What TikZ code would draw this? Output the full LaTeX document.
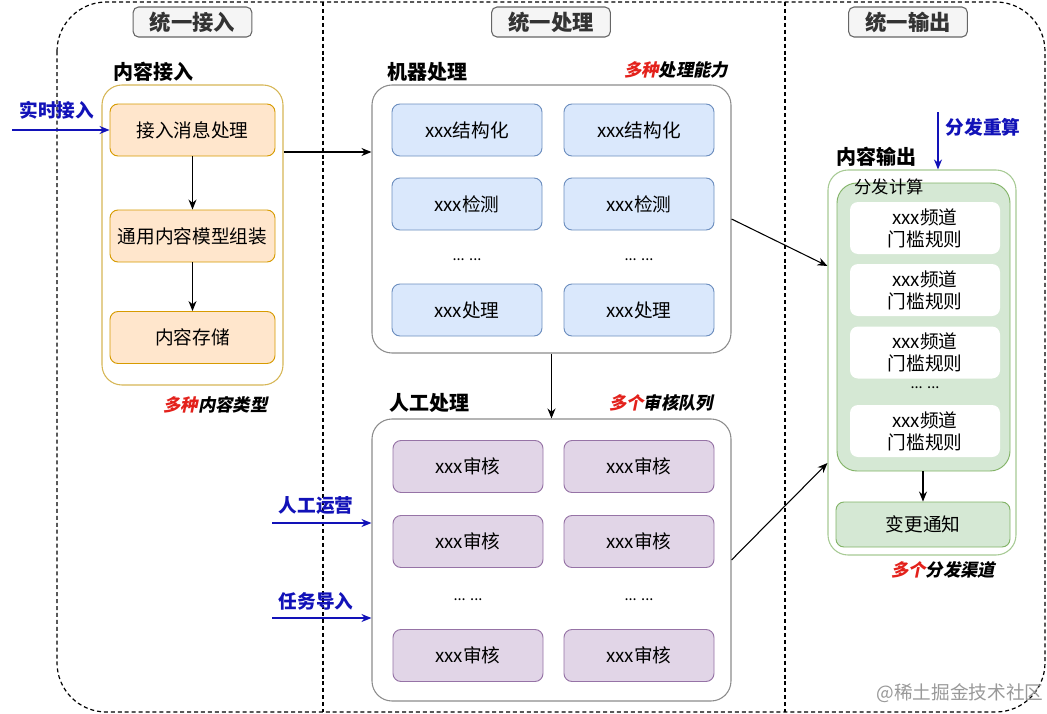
\documentclass[tikz,border=0pt]{standalone}
\usepackage{fontspec}
\setmainfont{Noto Sans CJK SC}
\newfontfamily\slantfont{Noto Sans CJK SC}[FakeSlant=0.2]
\usetikzlibrary{arrows.meta}
\definecolor{headfill}{HTML}{F5F5F5}
\definecolor{headline}{HTML}{666666}
\definecolor{inblue}{HTML}{1212B8}
\definecolor{hotred}{HTML}{E3211B}
\definecolor{yelline}{HTML}{D6B656}
\definecolor{orafill}{HTML}{FFE6CC}
\definecolor{oraline}{HTML}{D79B00}
\definecolor{blufill}{HTML}{DAE8FC}
\definecolor{bluline}{HTML}{6C8EBF}
\definecolor{purfill}{HTML}{E1D5E7}
\definecolor{purline}{HTML}{9673A6}
\definecolor{grnfill}{HTML}{D5E8D4}
\definecolor{grnline}{HTML}{82B366}
\definecolor{boxline}{HTML}{8C8C8C}

\begin{document}
\begin{tikzpicture}[x=0.75pt,y=-0.75pt, >={Stealth[length=7.5pt,width=6pt]},
  every node/.style={inner sep=0pt},
  frame/.style={draw,line width=0.9pt,dash pattern=on 3pt off 2.2pt},
  header/.style={draw=headline,fill=headfill,rounded corners=4pt,line width=0.8pt,
    minimum width=89pt,minimum height=22.5pt,font=\bfseries\fontsize{16}{18}\selectfont,text=black!80},
  title/.style={font=\bfseries\fontsize{15}{17}\selectfont},
  remark/.style={font=\slantfont\bfseries\fontsize{13}{15}\selectfont},
  group/.style={draw=boxline,fill=white,rounded corners=15pt,line width=0.8pt},
  item/.style={rounded corners=6pt,line width=0.7pt,minimum width=112.5pt,minimum height=39pt,
    font=\fontsize{14}{16.5}\selectfont,align=center},
  ora/.style={item,draw=oraline,fill=orafill,minimum width=123.75pt},
  blu/.style={item,draw=bluline,fill=blufill},
  pur/.style={item,draw=purline,fill=purfill},
  rule/.style={item,fill=white,draw=none},
  dots/.style={font=\fontsize{11}{13}\selectfont},
  feed/.style={->,draw=inblue,line width=1pt},
  feedtext/.style={text=inblue,font=\bfseries\fontsize{14}{16}\selectfont},
  link/.style={->,line width=0.8pt}]
\useasboundingbox (0,0) rectangle (1047,714);

% three columns
\draw[frame,rounded corners=37pt] (57,2) rectangle (1045,712);
\draw[frame] (323,2) -- (323,712);
\draw[frame] (785,2) -- (785,712);
\node[header] (hin) at (192.5,22) {统一接入};
\node[header] (hproc) at (551,22) {统一处理};
\node[header] (hout) at (908,22) {统一输出};

% input
\node[title] (tin) at (153,72) {内容接入};
\node[group,draw=yelline,minimum width=135.75pt,minimum height=225pt] (cin) at (192.5,235) {};
\node[ora] (msg) at (192.5,130) {接入消息处理};
\node[ora] (model) at (192.5,236) {通用内容模型组装};
\node[ora] (store) at (192.5,337.5) {内容存储};
\node[remark] (rin) at (215.5,405) {\textcolor{hotred}{多种}内容类型};
\coordinate (live) at (12,130);
\node[feedtext] (tlive) at (57,110) {实时接入};
\draw[feed] (live) -- (msg.west);
\draw[link] (msg) -- (model);
\draw[link] (model) -- (store);

% machine
\node[title] (tmach) at (427,72) {机器处理};
\node[remark] (rmach) at (676,70) {\textcolor{hotred}{多种}处理能力};
\node[group,minimum width=269.25pt,minimum height=201pt] (mach) at (551.5,219) {};
\node[blu] (m1) at (467,130) {xxx结构化};
\node[blu] (m2) at (639,130) {xxx结构化};
\node[blu] (m3) at (467,204) {xxx检测};
\node[blu] (m4) at (639,204) {xxx检测};
\node[dots] (md1) at (467,260) {... ...};
\node[dots] (md2) at (639,260) {... ...};
\node[blu] (m5) at (467,310) {xxx处理};
\node[blu] (m6) at (639,310) {xxx处理};

% manual
\node[title] (tman) at (429,403) {人工处理};
\node[remark] (rman) at (661,403) {\textcolor{hotred}{多个}审核队列};
\node[group,minimum width=269.25pt,minimum height=211.5pt] (man) at (551.5,560) {};
\node[pur] (a1) at (468,466.5) {xxx审核};
\node[pur] (a2) at (639,466.5) {xxx审核};
\node[pur] (a3) at (468,541.5) {xxx审核};
\node[pur] (a4) at (639,541.5) {xxx审核};
\node[dots] (ad1) at (468,600) {... ...};
\node[dots] (ad2) at (639,600) {... ...};
\node[pur] (a5) at (468,655.5) {xxx审核};
\node[pur] (a6) at (639,655.5) {xxx审核};
\coordinate (ops) at (272,523);
\coordinate (task) at (272,618);
\node[feedtext] (tops) at (316,506) {人工运营};
\node[feedtext] (ttask) at (316,601) {任务导入};
\draw[feed] (ops) -- (man.west |- ops);
\draw[feed] (task) -- (man.west |- task);

% output
\node[title] (tout) at (876,157) {内容输出};
\node[group,draw=grnline!70,minimum width=141pt,minimum height=288.75pt] (out) at (922,362.5) {};
\node[draw=grnline,fill=grnfill,rounded corners=15pt,line width=0.7pt,minimum width=129.75pt,minimum height=216pt] (calc) at (923.5,327) {};
\node[font=\fontsize{13}{15}\selectfont] (tcalc) at (889,187) {分发计算};
\node[rule] (r1) at (925,228) {xxx频道\\门槛规则};
\node[rule] (r2) at (925,290) {xxx频道\\门槛规则};
\node[rule] (r3) at (925,352.5) {xxx频道\\门槛规则};
\node[dots] (rd) at (925,388) {... ...};
\node[rule] (r4) at (925,431) {xxx频道\\门槛规则};
\node[item,draw=grnline,fill=grnfill,minimum width=130.5pt,minimum height=33.75pt] (notify) at (923,524.5) {变更通知};
\node[remark] (rout) at (943,570) {\textcolor{hotred}{多个}分发渠道};
\coordinate (redo) at (938,112);
\node[feedtext] (tredo) at (983,127) {分发重算};
\draw[feed] (redo) -- (out.north -| redo);
\draw[link] (calc.south -| notify.north) -- (notify.north);

% flow between columns
\draw[link] (cin.east |- 0,152) -- (mach.west |- 0,152);
\draw[link] (mach.south) -- (man.north);
\draw[link] (mach.east) -- (out.west |- 0,266);
\draw[link] (man.east) -- (out.west |- 0,463);

\node[text=black!40,font=\fontsize{14}{16}\selectfont] (mark) at (960,693) {@稀土掘金技术社区};
\end{tikzpicture}
\end{document}
